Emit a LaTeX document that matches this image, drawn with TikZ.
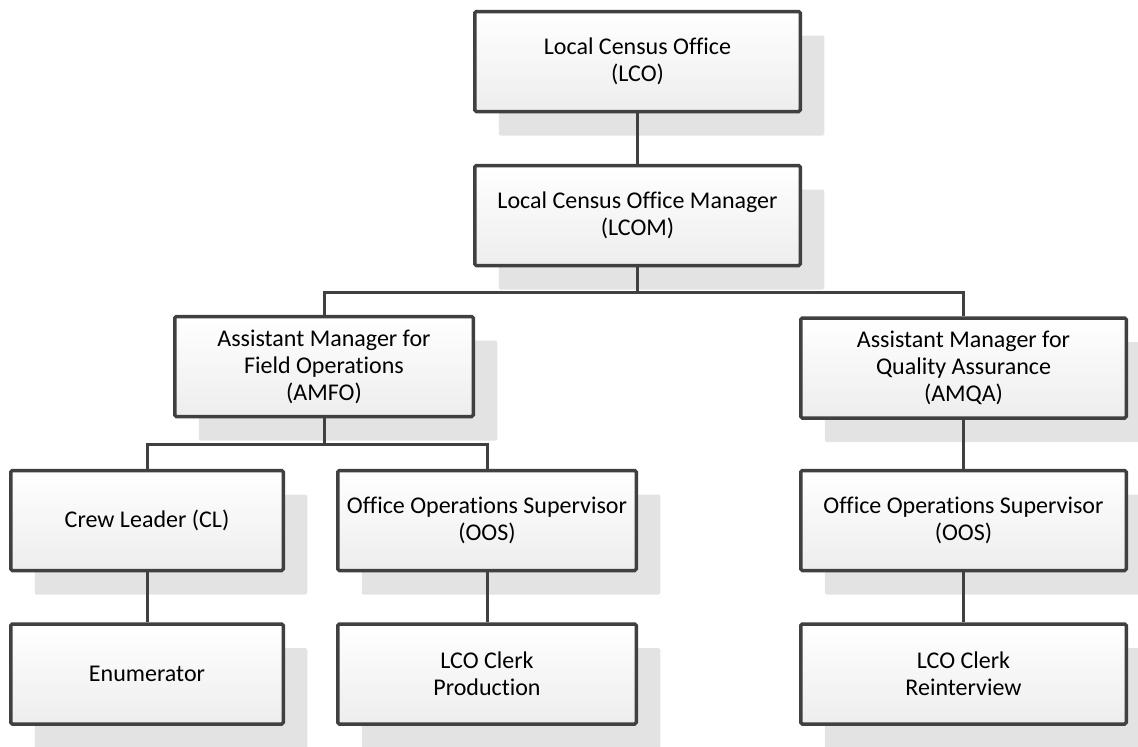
\documentclass[tikz,border=0pt]{standalone}
\usepackage{fontspec}
\setmainfont{Carlito}[Ligatures={NoCommon}]
\usetikzlibrary{shadows}
\definecolor{edgegray}{HTML}{404040}
\definecolor{shadowgray}{HTML}{E3E3E3}
\tikzset{
  orgbox/.style={draw=edgegray, line width=3.5pt, rounded corners=1.5pt,
    top color=white, bottom color=black!7,
    minimum height=100pt, align=center, inner sep=0pt,
    font=\fontsize{24}{27}\selectfont,
    drop shadow={shadow xshift=24pt, shadow yshift=-24pt, fill=shadowgray, opacity=1}},
  wA/.style={minimum width=325.5pt},
  wB/.style={minimum width=298.5pt},
  wC/.style={minimum width=272.5pt},
  conn/.style={draw=edgegray, line width=3pt}
}
\begin{document}
\begin{tikzpicture}[x=1pt,y=-1pt]
\useasboundingbox (0,0) rectangle (1138,747);
\clip (0,0) rectangle (1138,747);
\node[orgbox,wA] (lco) at (637.5,61.5) {Local Census Office\\(LCO)};
\node[orgbox,wA] (lcom) at (637.5,215.5) {Local Census Office Manager\\(LCOM)};
\node[orgbox,wB] (amfo) at (324,366.5) {Assistant Manager for\\Field Operations\\(AMFO)};
\node[orgbox,wA] (amqa) at (963.5,368) {Assistant Manager for\\Quality Assurance\\(AMQA)};
\node[orgbox,wC] (cl) at (147,520.5) {Crew Leader (CL)};
\node[orgbox,wB] (oos1) at (487,520.5) {Office Operations Supervisor\\(OOS)};
\node[orgbox,wA] (oos2) at (963.5,520.5) {Office Operations Supervisor\\(OOS)};
\node[orgbox,wC] (enum) at (147,674) {Enumerator};
\node[orgbox,wB] (clk1) at (487,674) {LCO Clerk\\Production};
\node[orgbox,wA] (clk2) at (963.5,674) {LCO Clerk\\Reinterview};
\coordinate (b1) at (637.5,292);
\coordinate (b2) at (324,444);
\draw[conn] (lco.south) -- (lcom.north);
\draw[conn] (lcom.south) -- (b1);
\draw[conn] (b1) -| (amfo.north);
\draw[conn] (b1) -| (amqa.north);
\draw[conn] (amfo.south) -- (b2);
\draw[conn] (b2) -| (cl.north);
\draw[conn] (b2) -| (oos1.north);
\draw[conn] (amqa.south) -- (oos2.north);
\draw[conn] (cl.south) -- (enum.north);
\draw[conn] (oos1.south) -- (clk1.north);
\draw[conn] (oos2.south) -- (clk2.north);
\end{tikzpicture}
\end{document}
